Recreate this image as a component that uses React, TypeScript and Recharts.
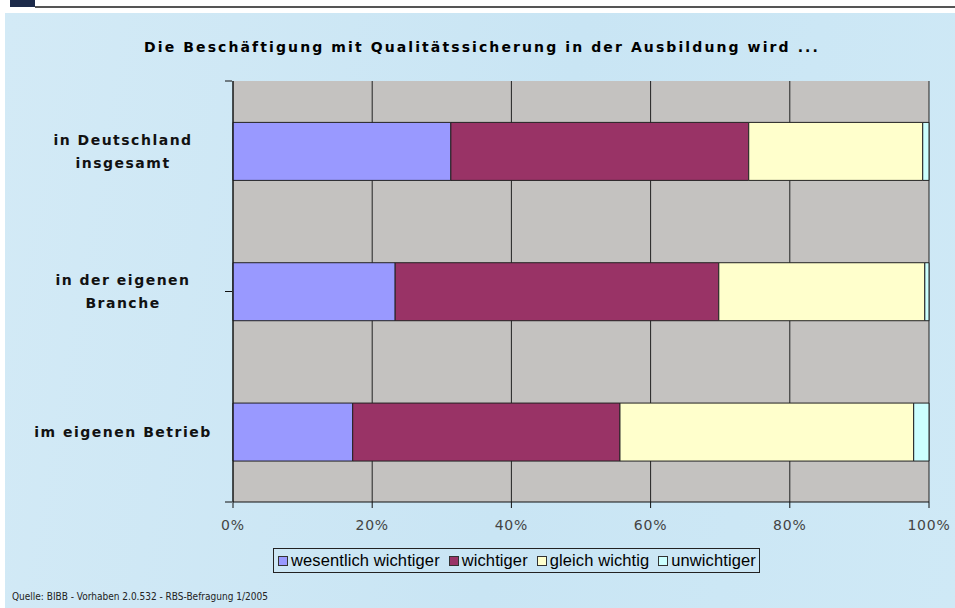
import { Bar, BarChart, CartesianGrid, XAxis, YAxis } from 'recharts'

const CATEGORIES = ['in Deutschland insgesamt', 'in der eigenen Branche', 'im eigenen Betrieb']
const CATEGORY_LINES = [['in Deutschland', 'insgesamt'], ['in der eigenen', 'Branche'], ['im eigenen Betrieb']]

const WESENTLICH = [31.3, 23.3, 17.2]
const WICHTIGER = [42.8, 46.5, 38.4]
const GLEICH = [25.0, 29.6, 42.2]
const UNWICHTIGER = [0.9, 0.6, 2.2]

const X_TICKS = [0, 20, 40, 60, 80, 100]
const BAND_TICKS = [0, 1, 2, 3]

const SERIES = [
  { key: 'wesentlich', name: 'wesentlich wichtiger', color: '#9999FF' },
  { key: 'wichtiger', name: 'wichtiger', color: '#993366' },
  { key: 'gleich', name: 'gleich wichtig', color: '#FFFFCC' },
  { key: 'unwichtiger', name: 'unwichtiger', color: '#CCFFFF' },
]

const data = CATEGORIES.map((c, i) => ({
  cat: c,
  wesentlich: WESENTLICH[i],
  wichtiger: WICHTIGER[i],
  gleich: GLEICH[i],
  unwichtiger: UNWICHTIGER[i],
}))

const labelFont = '"DejaVu Sans", Verdana, sans-serif'

// labels sit centred in the left margin, two lines where the original wraps
function CategoryTick(props: any) {
  const { y, payload } = props
  const lines = CATEGORY_LINES[CATEGORIES.indexOf(payload.value)] ?? [payload.value]
  const lh = 23
  const start = y - ((lines.length - 1) * lh) / 2
  return (
    <text
      x={123}
      y={start}
      textAnchor="middle"
      dominantBaseline="central"
      fontFamily={labelFont}
      fontWeight="bold"
      fontSize={14}
      letterSpacing={1.5}
      fill="#111"
    >
      {lines.map((l, i) => (
        <tspan key={l} x={123} y={start + i * lh}>
          {l}
        </tspan>
      ))}
    </text>
  )
}

function LegendBox() {
  return (
    <div
      style={{
        position: 'absolute',
        left: 273,
        top: 548,
        display: 'flex',
        alignItems: 'center',
        border: '1px solid #222',
        height: 23,
        padding: '0 3px 0 4px',
        fontFamily: '"Liberation Sans", Arial, sans-serif',
        fontSize: 16.5,
        letterSpacing: 0.1,
        color: '#000',
        whiteSpace: 'nowrap',
      }}
    >
      {SERIES.map((s, i) => (
        <span key={s.key} style={{ display: 'flex', alignItems: 'center', marginRight: i < SERIES.length - 1 ? 9 : 0 }}>
          <span
            style={{
              display: 'inline-block',
              width: 8,
              height: 8,
              background: s.color,
              border: '1px solid #333',
              marginRight: 3,
            }}
          />
          {s.name}
        </span>
      ))}
    </div>
  )
}

export default function App() {
  return (
    <div style={{ position: 'absolute', left: 0, top: 0, width: 955, height: 608, background: '#fff', overflow: 'hidden' }}>
      <div style={{ position: 'absolute', left: 10, top: 0, width: 25, height: 7, background: '#1c2a4a' }} />
      <div style={{ position: 'absolute', left: 35, top: 6, width: 920, height: 2, background: '#555' }} />
      <div
        style={{
          position: 'absolute',
          left: 5,
          top: 13,
          width: 950,
          height: 595,
          background: 'linear-gradient(100deg, #d3eaf6 0%, #c9e5f4 55%, #cfe9f6 100%)',
        }}
      />
      <div
        style={{
          position: 'absolute',
          left: 0,
          top: 39,
          width: 964,
          textAlign: 'center',
          fontFamily: labelFont,
          fontWeight: 'bold',
          fontSize: 14,
          letterSpacing: 2.1,
          color: '#000',
        }}
      >
        Die Beschäftigung mit Qualitätssicherung in der Ausbildung wird ...
      </div>
      <div style={{ position: 'absolute', left: 0, top: 0 }}>
        <BarChart
          width={955}
          height={608}
          data={data}
          layout="vertical"
          barCategoryGap="29.5%"
          margin={{ top: 81, right: 26, bottom: 76, left: 0 }}
        >
          <CartesianGrid horizontal={false} stroke="#222" fill="#C4C2C0" fillOpacity={1} />
          <XAxis
            type="number"
            domain={[0, 100]}
            ticks={X_TICKS}
            tickFormatter={(v) => `${v}%`}
            height={30}
            axisLine={{ stroke: '#111' }}
            tickLine={{ stroke: '#111' }}
            tickSize={6}
            tickMargin={12}
            tick={{ fill: '#444', fontSize: 14, fontFamily: labelFont, letterSpacing: 0.8 }}
          />
          <YAxis
            yAxisId="cat"
            type="category"
            dataKey="cat"
            width={1}
            axisLine={{ stroke: '#111' }}
            tickLine={false}
            tick={<CategoryTick />}
          />
          {/* band boundary tick marks, as in the original */}
          <YAxis
            yAxisId="grid"
            type="number"
            domain={[0, 3]}
            ticks={BAND_TICKS}
            width={232}
            axisLine={false}
            tick={() => <g />}
            tickSize={7}
            tickLine={{ stroke: '#111' }}
          />
          {SERIES.map((s) => (
            <Bar
              key={s.key}
              yAxisId="cat"
              dataKey={s.key}
              name={s.name}
              stackId="a"
              fill={s.color}
              stroke="#222"
              strokeWidth={1}
              isAnimationActive={false}
            />
          ))}
        </BarChart>
      </div>
      <LegendBox />
      <div
        style={{
          position: 'absolute',
          left: 12,
          top: 591,
          fontFamily: 'Tahoma, "DejaVu Sans Condensed", sans-serif',
          fontSize: 10,
          color: '#222',
          whiteSpace: 'nowrap',
        }}
      >
        Quelle: BIBB - Vorhaben 2.0.532 - RBS-Befragung 1/2005
      </div>
    </div>
  )
}
